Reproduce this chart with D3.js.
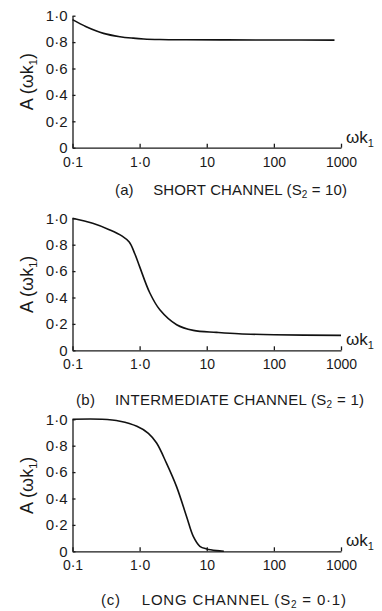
<!DOCTYPE html>
<html>
<head>
<meta charset="utf-8">
<script src="https://cdn.jsdelivr.net/npm/d3@7"></script>
<style>
  html, body { margin: 0; padding: 0; background: #fff; }
  svg { display: block; }
  text { font-family: "Liberation Sans", "DejaVu Sans", sans-serif; fill: #1a1a1a; }
  .axis path, .axis line { stroke: #1a1a1a; stroke-width: 1.3; }
  .curve { fill: none; stroke: #111; stroke-width: 1.6; }
</style>
</head>
<body>
<svg width="382" height="611"></svg>
<script>
// tick values and labels
const xTickValues = [0.1, 1, 10, 100, 1000];
const xTickLabels = ["0·1", "1·0", "10", "100", "1000"];
const yTickValues = [0, 0.2, 0.4, 0.6, 0.8, 1.0];
const yTickLabels = ["0", "0·2", "0·4", "0·6", "0·8", "1·0"];

// (a) short channel, S2 = 10
const shortX = [0.1, 0.16, 0.29, 0.51, 0.8, 1.15, 2, 5, 20, 100, 800];
const shortA = [0.97, 0.917, 0.866, 0.841, 0.83, 0.824, 0.82, 0.818, 0.817, 0.816, 0.815];

// (b) intermediate channel, S2 = 1
const interX = [0.1, 0.2, 0.36, 0.55, 0.7, 0.85, 1.0, 1.42, 2.0, 3.56, 6.3, 14, 30, 100, 1000];
const interA = [1.0, 0.962, 0.912, 0.865, 0.82, 0.73, 0.634, 0.434, 0.307, 0.194, 0.151, 0.136, 0.125, 0.118, 0.113];

// (c) long channel, S2 = 0.1
const longX = [0.1, 0.275, 0.51, 0.91, 1.35, 1.79, 2.5, 3.55, 5.0, 6.3, 7.9, 10, 14, 18];
const longA = [1.0, 1.0, 0.985, 0.947, 0.894, 0.82, 0.67, 0.49, 0.264, 0.113, 0.038, 0.018, 0.005, 0];

const panelLetters = ["(a)", "(b)", "(c)"];
const panelNames = ["SHORT CHANNEL", "INTERMEDIATE CHANNEL", "LONG CHANNEL"];
const panelS2 = ["10", "1", "0·1"];

const svg = d3.select("svg");

const panels = [
  { xs: shortX, ys: shortA, top: 15.7, titleX: 115, titleW: 232, titleY: 195 },
  { xs: interX, ys: interA, top: 218.3, titleX: 76, titleW: 288, titleY: 405 },
  { xs: longX, ys: longA, top: 419.3, titleX: 101, titleW: 245, titleY: 605 },
];

const plotH = 132;
const x = d3.scaleLog().domain([0.1, 1000]).range([72.5, 341]);

panels.forEach((p, i) => {
  const y = d3.scaleLinear().domain([0, 1]).range([p.top + plotH, p.top]);
  const g = svg.append("g");

  // y axis, ticks point inwards
  g.append("g")
    .attr("class", "axis")
    .attr("transform", `translate(${x(0.1)},0)`)
    .call(
      d3.axisLeft(y)
        .tickValues(yTickValues)
        .tickFormat((d, j) => yTickLabels[j])
        .tickSizeInner(-3)
        .tickSizeOuter(0)
        .tickPadding(5)
    )
    .call((a) => a.selectAll("text").attr("font-size", 15).attr("font-family", "Liberation Sans").attr("fill", "#1a1a1a"));

  // x axis, ticks point up
  g.append("g")
    .attr("class", "axis")
    .attr("transform", `translate(0,${y(0)})`)
    .call(
      d3.axisBottom(x)
        .tickValues(xTickValues)
        .tickFormat((d, j) => xTickLabels[j])
        .tickSizeInner(-4)
        .tickSizeOuter(0)
        .tickPadding(9)
    )
    .call((a) => a.selectAll("text").attr("font-size", 14).attr("font-family", "Liberation Sans").attr("fill", "#1a1a1a"));

  // curve
  const pts = p.xs.map((d, j) => [d, p.ys[j]]);
  g.append("path")
    .datum(pts)
    .attr("class", "curve")
    .attr("d", d3.line().x((d) => x(d[0])).y((d) => y(d[1])).curve(d3.curveCatmullRom.alpha(0.5)));

  // y label
  const yl = g.append("text")
    .attr("transform", `translate(33,${p.top + plotH / 2}) rotate(-90)`)
    .attr("text-anchor", "middle")
    .attr("font-size", 18);
  yl.append("tspan").text("A (ωk");
  yl.append("tspan").attr("font-size", 11).attr("dy", 4).text("1");
  yl.append("tspan").attr("dy", -4).text(")");

  // x label
  const xl = g.append("text")
    .attr("x", 346)
    .attr("y", y(0) - 5)
    .attr("font-size", 17);
  xl.append("tspan").text("ωk");
  xl.append("tspan").attr("font-size", 11).attr("dy", 4).text("1");

  // title
  const t = g.append("text")
    .attr("x", p.titleX)
    .attr("y", p.titleY)
    .attr("font-size", 15)
    .attr("textLength", p.titleW)
    .attr("lengthAdjust", "spacing");
  t.append("tspan").text(panelLetters[i] + "\u2003 " + panelNames[i] + "  (S");
  t.append("tspan").attr("font-size", 10).attr("dy", 3).text("2");
  t.append("tspan").attr("dy", -3).text(" = " + panelS2[i] + ")");
});
</script>
</body>
</html>
